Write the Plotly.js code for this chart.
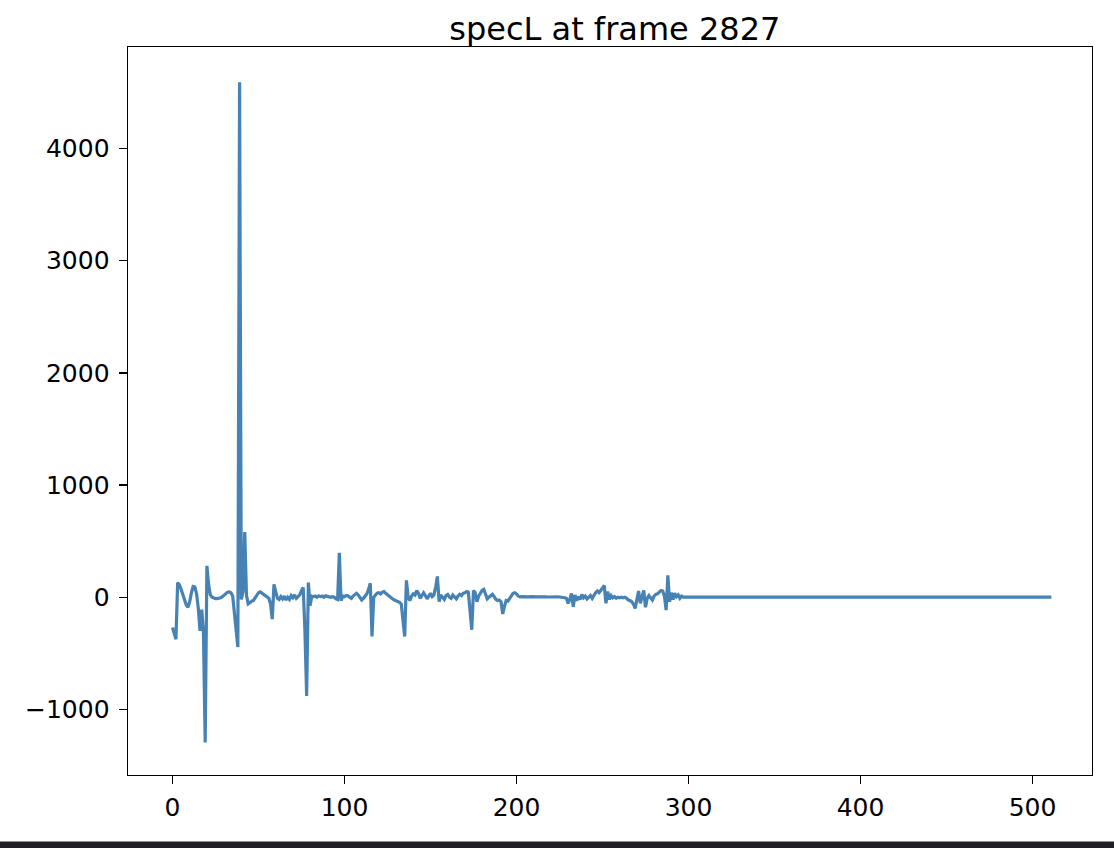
<!DOCTYPE html>
<html>
<head>
<meta charset="utf-8">
<script src="https://cdn.plot.ly/plotly-3.0.1.min.js"></script>
<style>html,body{margin:0;padding:0;background:#fff;}#chart{width:1114px;height:848px;}</style>
</head>
<body>
<div id="chart"></div>
<script>
const chartTitle = "specL at frame 2827";
const xTickVals = [0, 100, 200, 300, 400, 500];
const yTickVals = [-1000, 0, 1000, 2000, 3000, 4000];

// specL values for bins 0..511
const specL = [
  -270, -330, -375, 130, 110, 70, 20, -30, -70, -90,
  -40, 40, 95, 90, 30, -100, -300, -110, -320, -1295,
  280, 110, 20, 0, -10, -12, -12, -10, -5, 5,
  20, 35, 45, 48, 40, 10, -150, -300, -445, 4590,
  -20, 50, 580, 20, -60, -50, -35, -30, -10, 15,
  40, 47, 35, 20, 10, 5, -10, -60, -195, 115,
  40, -10, -20, 5, -15, 10, -25, 0, -20, 15,
  -5, 20, -10, 10, 20, 60, 85, -300, -880, 130,
  -75, 10, 5, 10, 0, 12, 5, 10, 0, 12,
  8, 5, 0, 5, 0, -15, -20, 395, -30, 10,
  5, 15, 12, 0, -10, 10, 25, 35, 20, -10,
  -25, -10, 15, 30, 70, 125, -350, 0, 20, 35,
  40, 30, 45, 50, 35, 20, 10, -5, -15, -25,
  -30, -40, -45, -60, -200, -350, 150, 0, -30, 10,
  30, 20, 60, 35, -10, 20, 40, 15, -15, 10,
  35, 5, 20, 90, 185, -40, 20, 0, -20, 15,
  25, 0, -10, 20, 5, -15, 10, 25, 15, 35,
  40, 50, 45, -120, -290, 60, 40, -40, 10, 35,
  60, 70, 20, -15, 0, 10, 25, 5, -20, -30,
  -25, -40, -150, -80, -30, -35, -10, 15, 35, 40,
  30, 10, 3, 5, 3, 2, 4, 3, 5, 3,
  2, 4, 3, 3, 5, 2, 3, 4, 2, 3,
  5, 3, 2, 4, 3, 2, 0, 3, -5, -10,
  -55, -20, 33, -85, 20, -30, 5, -20, 25, -5,
  10, -15, 0, 15, -10, 20, 40, 55, 40, 60,
  80, 105, -55, 50, -20, 15, -5, 5, -10, 0,
  -5, 0, -5, 0, -10, -25, -30, -40, -60, -100,
  -20, 55, -55, 20, 60, -90, -10, 15, -5, -25,
  10, 25, 30, 45, 60, 55, 10, -115, 195, -40,
  40, -20, 35, 5, 20, -10, 10, 0, 2, 0,
  1, 0, -1, 0, 1, 0, 0, -1, 0, 1,
  0, 0, 1, 0, -1, 0, 0, 1, 0, 0,
  -1, 0, 0, 1, 0, 0, 0, -1, 0, 0,
  1, 0, 0, 0, -1, 0, 0, 0, 1, 0,
  0, 0, 0, -1, 0, 0, 0, 0, 1, 0,
  0, 0, 0, 0, -1, 0, 0, 0, 0, 0,
  1, 0, 0, 0, 0, 0, -1, 0, 0, 0,
  0, 0, 0, 1, 0, 0, 0, 0, 0, 0,
  -1, 0, 0, 0, 0, 0, 0, 0, 1, 0,
  0, 0, 0, 0, 0, 0, -1, 0, 0, 0,
  0, 0, 0, 0, 0, 1, 0, 0, 0, 0,
  0, 0, 0, 0, 0, 0, 0, -1, 0, 0,
  0, 0, 0, 0, 0, 0, 0, 0, 0, 0,
  1, 0, 0, 0, 0, 0, 0, 0, 0, 0,
  0, 0, 0, 0, 0, 0, 0, 0, 0, -1,
  0, 0, 0, 0, 0, 0, 0, 0, 0, 0,
  0, 0, 0, 0, 0, 0, 0, 0, 0, 0,
  0, 0, 0, 0, 0, 0, 0, 0, 0, 0,
  0, 0, 0, 0, 0, 0, 0, 0, 0, 0,
  0, 0, 0, 0, 0, 0, 0, 0, 0, 0,
  0, 0, 0, 0, 0, 0, 0, 0, 0, 0,
  0, 0
];
const bins = specL.map((v, i) => i);

const fontFam = "DejaVu Sans, sans-serif";

const trace = {
  x: bins,
  y: specL,
  type: "scatter",
  mode: "lines",
  line: {color: "#4682b4", width: 3.2},
  hoverinfo: "x+y"
};

const layout = {
  width: 1114,
  height: 848,
  margin: {l: 128, r: 22, t: 47, b: 73, pad: 0},
  paper_bgcolor: "#ffffff",
  plot_bgcolor: "#ffffff",
  showlegend: false,
  font: {family: fontFam, color: "#000000", size: 25},
  title: {
    text: chartTitle,
    font: {family: fontFam, size: 32, color: "#000000"},
    x: 0.505, xref: "paper", xanchor: "center",
    y: 1, yref: "paper", yanchor: "bottom",
    pad: {b: 7}
  },
  xaxis: {
    range: [-25.87, 534.6],
    tickmode: "array",
    tickvals: xTickVals,
    ticktext: xTickVals.map(String),
    ticks: "outside",
    ticklen: 8,
    tickwidth: 1.3,
    tickcolor: "#000",
    ticklabelstandoff: 2,
    showline: true,
    linecolor: "#000",
    linewidth: 1.4,
    mirror: true,
    showgrid: false,
    zeroline: false,
    tickfont: {family: fontFam, size: 25, color: "#000"}
  },
  yaxis: {
    range: [-1585, 4905],
    tickmode: "array",
    tickvals: yTickVals,
    ticktext: yTickVals.map(v => v < 0 ? "\u2212" + Math.abs(v) : String(v)),
    ticks: "outside",
    ticklen: 8,
    tickwidth: 1.3,
    tickcolor: "#000",
    ticklabelstandoff: 4,
    showline: true,
    linecolor: "#000",
    linewidth: 1.4,
    mirror: true,
    showgrid: false,
    zeroline: false,
    tickfont: {family: fontFam, size: 25, color: "#000"}
  },
  shapes: [{
    type: "rect",
    xref: "paper", yref: "paper",
    x0: -0.2, x1: 1.1,
    y0: -0.0915, y1: -0.12,
    fillcolor: "#1f2028",
    line: {width: 0},
    layer: "above"
  }]
};

Plotly.newPlot("chart", [trace], layout, {staticPlot: true, displayModeBar: false});
</script>
</body>
</html>
